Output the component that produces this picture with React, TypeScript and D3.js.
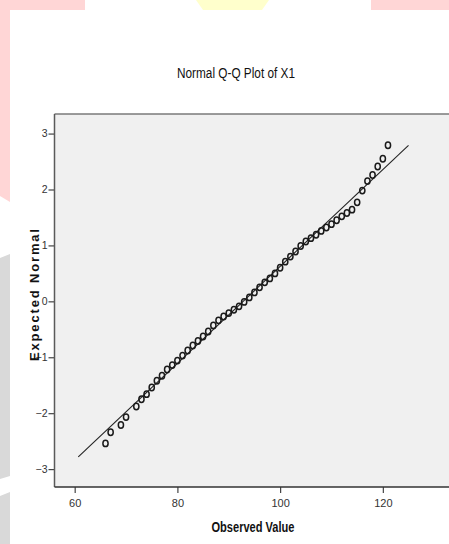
import React, { useEffect, useRef } from "react";
import * as d3 from "d3";

// observed values (unique) and their expected normal quantiles
const observed = [
  66, 67, 69, 70, 72, 73, 74, 75, 76, 77, 78, 79, 80, 81, 82, 83, 84, 85, 86,
  87, 88, 89, 90, 91, 92, 93, 94, 95, 96, 97, 98, 99, 100, 101, 102, 103, 104,
  105, 106, 107, 108, 109, 110, 111, 112, 113, 114, 115, 116, 117, 118, 119,
  120, 121,
];
const expected = [
  -2.54, -2.34, -2.21, -2.07, -1.88, -1.75, -1.66, -1.54, -1.42, -1.33, -1.22,
  -1.14, -1.06, -0.97, -0.88, -0.79, -0.71, -0.63, -0.54, -0.43, -0.34, -0.27,
  -0.21, -0.15, -0.09, -0.01, 0.07, 0.16, 0.25, 0.34, 0.41, 0.5, 0.6, 0.71,
  0.8, 0.89, 0.99, 1.07, 1.13, 1.19, 1.26, 1.32, 1.38, 1.45, 1.52, 1.58, 1.64,
  1.77, 1.98, 2.15, 2.26, 2.41, 2.55, 2.79,
];

// reference line end points (observed, expected)
const lineX = [60.7, 125];
const lineY = [-2.78, 2.79];

const xTicks = [60, 80, 100, 120];
const yTicks = [-3, -2, -1, 0, 1, 2, 3];

const title = "Normal Q-Q Plot of X1";
const xLabel = "Observed Value";
const yLabel = "Expected Normal";

const W = 449;
const H = 544;
const narrow = "'Liberation Sans Narrow', 'Arial Narrow', 'Liberation Sans', sans-serif";

const App = () => {
  const svgRef = useRef<SVGSVGElement>(null);

  useEffect(() => {
    const svg = d3.select(svgRef.current);
    svg.selectAll("*").remove();

    const plot = { left: 54.5, top: 114, right: 470, bottom: 487 };

    // page background pieces
    svg.append("rect").attr("width", W).attr("height", H).attr("fill", "#fff");
    svg.append("rect").attr("x", 0).attr("y", 0).attr("width", 85).attr("height", 10).attr("fill", "#ffd6d6");
    svg.append("rect").attr("x", 371).attr("y", 0).attr("width", 78).attr("height", 10).attr("fill", "#ffd6d6");
    svg.append("path").attr("d", "M0,0H10V202L0,196Z").attr("fill", "#ffd6d6");
    svg.append("path").attr("d", "M196,0H269L262,10H203Z").attr("fill", "#ffffcc");
    svg.append("path").attr("d", "M0,258L10,254V476L0,479Z").attr("fill", "#d9d9d9");
    svg.append("path").attr("d", "M0,496L10,492V544H0Z").attr("fill", "#d9d9d9");

    const x = d3
      .scaleLinear()
      .domain([56.07, 136.97])
      .range([plot.left, plot.right]);

    const y = d3
      .scaleLinear()
      .domain([-3.32, 3.35])
      .range([plot.bottom, plot.top]);

    // plot area
    svg
      .append("rect")
      .attr("x", plot.left)
      .attr("y", plot.top)
      .attr("width", plot.right - plot.left)
      .attr("height", plot.bottom - plot.top)
      .attr("fill", "#f0f0f0");

    svg
      .append("line")
      .attr("x1", plot.left)
      .attr("x2", plot.right)
      .attr("y1", plot.top)
      .attr("y2", plot.top)
      .attr("stroke", "#7a7a7a")
      .attr("stroke-width", 1.5);

    // Eje Y
    const yAxisG = svg
      .append("g")
      .attr("transform", `translate(${plot.left},0)`)
      .call(d3.axisLeft(y).tickValues(yTicks).tickSize(6).tickPadding(1).tickFormat(d3.format("d")));
    yAxisG.select("path").remove();
    yAxisG.selectAll("line").attr("stroke", "#444").attr("stroke-width", 1.2);
    yAxisG
      .selectAll("text")
      .style("font-family", narrow)
      .style("font-size", "10.5px")
      .style("fill", "#333");

    // Eje X
    const xAxisG = svg
      .append("g")
      .attr("transform", `translate(0,${plot.bottom})`)
      .call(d3.axisBottom(x).tickValues(xTicks).tickSize(6).tickPadding(6).tickFormat(d3.format("d")));
    xAxisG.select("path").remove();
    xAxisG.selectAll("line").attr("stroke", "#444").attr("stroke-width", 1.2);
    xAxisG
      .selectAll("text")
      .style("font-family", narrow)
      .style("font-size", "11px")
      .style("fill", "#333");

    svg
      .append("line")
      .attr("x1", plot.left)
      .attr("x2", plot.left)
      .attr("y1", plot.top)
      .attr("y2", plot.bottom)
      .attr("stroke", "#5a5a5a")
      .attr("stroke-width", 1.5);
    svg
      .append("line")
      .attr("x1", plot.left)
      .attr("x2", plot.right)
      .attr("y1", plot.bottom)
      .attr("y2", plot.bottom)
      .attr("stroke", "#333")
      .attr("stroke-width", 1.5);

    // reference line
    svg
      .append("line")
      .attr("x1", x(lineX[0]))
      .attr("y1", y(lineY[0]))
      .attr("x2", x(lineX[1]))
      .attr("y2", y(lineY[1]))
      .attr("stroke", "#222")
      .attr("stroke-width", 1.1);

    // points
    svg
      .append("g")
      .selectAll("ellipse")
      .data(observed)
      .enter()
      .append("ellipse")
      .attr("cx", (d) => x(d))
      .attr("cy", (d, i) => y(expected[i]))
      .attr("rx", 2.6)
      .attr("ry", 3.2)
      .attr("fill", "none")
      .attr("stroke", "#1a1a1a")
      .attr("stroke-width", 1.5);

    // Título
    svg
      .append("text")
      .attr("x", 236)
      .attr("y", 78)
      .attr("text-anchor", "middle")
      .attr("font-family", narrow)
      .attr("font-size", 14)
      .attr("fill", "#111")
      .attr("textLength", 118)
      .attr("lengthAdjust", "spacingAndGlyphs")
      .text(title);

    svg
      .append("text")
      .attr("x", 253)
      .attr("y", 532)
      .attr("text-anchor", "middle")
      .attr("font-family", narrow)
      .attr("font-weight", "bold")
      .attr("font-size", 14)
      .attr("fill", "#111")
      .attr("textLength", 83)
      .attr("lengthAdjust", "spacingAndGlyphs")
      .text(xLabel);

    svg
      .append("text")
      .attr("transform", "rotate(-90)")
      .attr("x", -295)
      .attr("y", 38.5)
      .attr("text-anchor", "middle")
      .attr("font-family", "'Liberation Sans', Arial, sans-serif")
      .attr("font-weight", "bold")
      .attr("font-size", 13)
      .attr("fill", "#111")
      .attr("textLength", 132)
      .attr("lengthAdjust", "spacing")
      .text(yLabel);
  }, []);

  return (
    <svg
      ref={svgRef}
      width={W}
      height={H}
      style={{ position: "absolute", left: 0, top: 0, display: "block" }}
    />
  );
};

export default App;
